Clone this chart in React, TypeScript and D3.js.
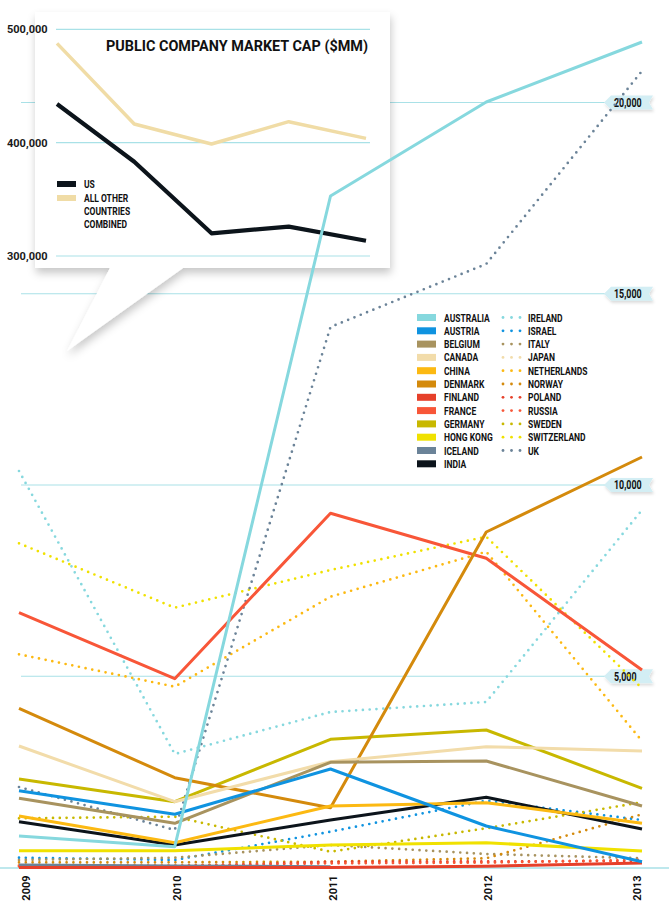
import React from 'react'
import * as d3 from 'd3'

const years = ['2009', '2010', '2011', '2012', '2013']

// main chart values ($MM)
const australia = [824, 544, 17555, 20013, 21582]
const austria = [2008, 1391, 2575, 1085, 152]
const belgium = [1809, 1156, 2750, 2784, 1608]
const canada = [3176, 1720, 2766, 3158, 3046]
const china = [1346, 648, 1608, 1694, 1156]
const denmark = [4162, 2348, 1563, 8771, 10732]
const finland = [0, 0, 0, 30, 120]
const france = [6661, 4936, 9260, 8084, 5163]
const germany = [2314, 1720, 3352, 3595, 2071]
const hongKong = [439, 439, 588, 648, 431]
const iceland = [65, 40, 20, null, null]
const india = [1197, 588, 1242, 1835, 1007]

const ireland = [10366, 2967, 4065, 4327, 9346]
const israel = [256, 196, 936, 1746, 1242]
const italy = [196, 256, 588, 353, 241]
const japan = [84, 65, 110, 125, 196]
const netherlands = [5574, 4727, 7080, 8256, 3307]
const norway = [136, 136, 152, 241, 1391]
const poland = [30, 30, 150, 160, 170]
const russia = [50, 50, 110, 130, 200]
const sweden = [1286, 1328, 413, 1025, 1705]
const switzerland = [8476, 6792, 7778, 8648, 4685]
const uk = [2105, 980, 14131, 15778, 20824]

const mainTicks = [5000, 10000, 15000, 20000]

// inset values
const usCap = [434100, 383200, 320000, 325900, 313500]
const otherCap = [487600, 416500, 398800, 418500, 403800]
const insetTicks = [300000, 400000, 500000]

type Series = { name: string; values: (number | null)[]; color: string; dotted: boolean }

const solidSeries: Series[] = [
  { name: 'AUSTRALIA', values: australia, color: '#86d8de', dotted: false },
  { name: 'AUSTRIA', values: austria, color: '#0f93e0', dotted: false },
  { name: 'BELGIUM', values: belgium, color: '#a8935f', dotted: false },
  { name: 'CANADA', values: canada, color: '#f2dcaa', dotted: false },
  { name: 'CHINA', values: china, color: '#fcb912', dotted: false },
  { name: 'DENMARK', values: denmark, color: '#d48a0c', dotted: false },
  { name: 'FINLAND', values: finland, color: '#e6402a', dotted: false },
  { name: 'FRANCE', values: france, color: '#f85638', dotted: false },
  { name: 'GERMANY', values: germany, color: '#c8b800', dotted: false },
  { name: 'HONG KONG', values: hongKong, color: '#f0e100', dotted: false },
  { name: 'ICELAND', values: iceland, color: '#6b8398', dotted: false },
  { name: 'INDIA', values: india, color: '#0c141b', dotted: false },
]

const dottedSeries: Series[] = [
  { name: 'IRELAND', values: ireland, color: '#86d8de', dotted: true },
  { name: 'ISRAEL', values: israel, color: '#0f93e0', dotted: true },
  { name: 'ITALY', values: italy, color: '#a8935f', dotted: true },
  { name: 'JAPAN', values: japan, color: '#f2dcaa', dotted: true },
  { name: 'NETHERLANDS', values: netherlands, color: '#fcb912', dotted: true },
  { name: 'NORWAY', values: norway, color: '#d48a0c', dotted: true },
  { name: 'POLAND', values: poland, color: '#e6402a', dotted: true },
  { name: 'RUSSIA', values: russia, color: '#f85638', dotted: true },
  { name: 'SWEDEN', values: sweden, color: '#c8b800', dotted: true },
  { name: 'SWITZERLAND', values: switzerland, color: '#f0e100', dotted: true },
  { name: 'UK', values: uk, color: '#6b8398', dotted: true },
]

const W = 669
const H = 910
const FONT = 'Roboto, "DejaVu Sans", sans-serif'
const GRID = '#a9e1e7'
const COND = 0.74

const xMain = d3.scalePoint<string>().domain(years).range([19, 642])
const yMain = d3.scaleLinear().domain([0, 20000]).range([867.5, 102.5])

const xInset = d3.scalePoint<string>().domain(years).range([57, 366])
const yInset = d3.scaleLinear().domain([300000, 500000]).range([256, 29.3])

const mainLine = d3
  .line<number | null>()
  .defined(d => d != null)
  .x((_, i) => xMain(years[i]) as number)
  .y(d => yMain(d as number))

const insetLine = d3
  .line<number>()
  .x((_, i) => xInset(years[i]) as number)
  .y(d => yInset(d))

const CondText = ({ x, y, size, children, anchor = 'start' }: any) => (
  <g transform={`translate(${x},${y}) scale(${COND},1)`}>
    <text x={0} y={0} fontSize={size} fontWeight={700} fill="#111" textAnchor={anchor} fontFamily={FONT}>
      {children}
    </text>
  </g>
)

const App = () => {
  const fmt = d3.format(',')
  const legendY = (i: number) => 317.5 + i * 13.3

  return (
    <svg width={W} height={H} style={{ position: 'absolute', left: 0, top: 0, background: '#fff' }}>
      <defs>
        <filter id="boxShadow" x="-10%" y="-10%" width="125%" height="135%">
          <feDropShadow dx="1" dy="5" stdDeviation="4" floodColor="#000" floodOpacity="0.22" />
        </filter>
        <filter id="tagShadow" x="-20%" y="-30%" width="140%" height="180%">
          <feDropShadow dx="1" dy="2" stdDeviation="1.5" floodColor="#000" floodOpacity="0.15" />
        </filter>
      </defs>

      {/* main grid */}
      {mainTicks.map(t => (
        <line key={t} x1={21} x2={608} y1={yMain(t)} y2={yMain(t)} stroke={GRID} strokeWidth={1.2} />
      ))}
      <line x1={0} x2={W} y1={yMain(0) + 0.5} y2={yMain(0) + 0.5} stroke={GRID} strokeWidth={1.5} />

      {/* inset box with tail */}
      <path d="M35,12 H390 V268 H183 L67,351 L110,268 H35 Z" fill="#fff" filter="url(#boxShadow)" />

      {/* inset grid + labels */}
      {insetTicks.map(t => (
        <g key={t}>
          <line x1={56} x2={370} y1={yInset(t)} y2={yInset(t)} stroke={GRID} strokeWidth={1.2} />
          <text x={7} y={yInset(t) + 4} fontSize={11} fontWeight={700} fill="#1a1a1a" fontFamily={FONT}>
            {fmt(t)}
          </text>
        </g>
      ))}
      <text
        x={368}
        y={51}
        fontSize={15}
        fontWeight={700}
        fill="#111"
        textAnchor="end"
        fontFamily={FONT}
        textLength={262}
        lengthAdjust="spacingAndGlyphs"
      >
        PUBLIC COMPANY MARKET CAP ($MM)
      </text>
      <path d={insetLine(otherCap) || ''} fill="none" stroke="#f0dca6" strokeWidth={3.5} strokeLinejoin="round" />
      <path d={insetLine(usCap) || ''} fill="none" stroke="#0c141b" strokeWidth={4.2} strokeLinejoin="round" />

      {/* inset legend */}
      <rect x={57} y={181} width={19} height={6} fill="#0c141b" />
      <rect x={57} y={195} width={19} height={6} fill="#f0dca6" />
      <CondText x={84} y={188} size={11.5}>US</CondText>
      <CondText x={84} y={202} size={11.5}>ALL OTHER</CondText>
      <CondText x={84} y={215} size={11.5}>COUNTRIES</CondText>
      <CondText x={84} y={228} size={11.5}>COMBINED</CondText>

      {/* tick tags */}
      {mainTicks.map(t => {
        const gy = yMain(t)
        return (
          <g key={t}>
            <path
              d={`M604,${gy} L611,${gy - 7} H653 L649,${gy} L653,${gy + 7} H611 Z`}
              fill="#d3eef4"
              filter="url(#tagShadow)"
            />
            <CondText x={614} y={gy + 4.3} size={12}>
              {fmt(t)}
            </CondText>
          </g>
        )
      })}

      {/* main legend */}
      {solidSeries.map((s, i) => (
        <g key={s.name}>
          <rect x={417} y={legendY(i) - 3.5} width={19} height={7} fill={s.color} />
          <CondText x={444} y={legendY(i) + 4} size={11.5}>
            {s.name}
          </CondText>
        </g>
      ))}
      {dottedSeries.map((s, i) => (
        <g key={s.name}>
          {[0, 1, 2].map(k => (
            <circle key={k} cx={503 + k * 8.5} cy={legendY(i)} r={1.4} fill={s.color} />
          ))}
          <CondText x={528} y={legendY(i) + 4} size={11.5}>
            {s.name}
          </CondText>
        </g>
      ))}

      {/* main data lines */}
      {dottedSeries.map(s => (
        <path
          key={s.name}
          d={mainLine(s.values) || ''}
          fill="none"
          stroke={s.color}
          strokeWidth={2.7}
          strokeLinecap="round"
          strokeDasharray="0 6.8"
        />
      ))}
      {solidSeries
        .slice()
        .reverse()
        .map(s => (
          <path
            key={s.name}
            d={mainLine(s.values) || ''}
            fill="none"
            stroke={s.color}
            strokeWidth={3}
            strokeLinejoin="round"
          />
        ))}

      {/* year labels */}
      {years.map(yr => {
        const x = Math.min(Math.max((xMain(yr) as number) + 2, 26), 637)
        return (
          <text
            key={yr}
            transform={`translate(${x + 4},888) rotate(-90)`}
            fontSize={11}
            fontWeight={700}
            fill="#111"
            textAnchor="middle"
            fontFamily={FONT}
          >
            {yr}
          </text>
        )
      })}
    </svg>
  )
}

export default App
